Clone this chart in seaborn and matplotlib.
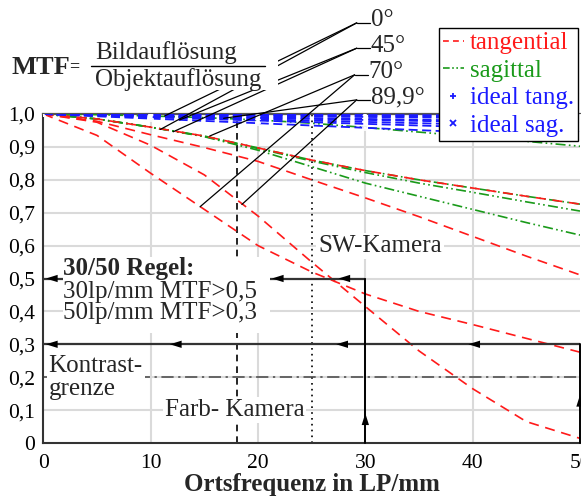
import matplotlib
matplotlib.use("Agg")
import matplotlib.pyplot as plt
import seaborn as sns
from matplotlib.lines import Line2D
from matplotlib.patches import Rectangle

# ---------------- data ----------------
freq = [0, 5, 10, 15, 20, 25, 30, 35, 40, 45, 50]
tan_0 = [1.0, 0.985, 0.96, 0.933, 0.897, 0.86, 0.828, 0.80, 0.775, 0.75, 0.726]
tan_45 = [1.0, 0.978, 0.937, 0.898, 0.856, 0.80, 0.745, 0.688, 0.628, 0.568, 0.511]
tan_70 = [1.0, 0.935, 0.82, 0.71, 0.60, 0.52, 0.453, 0.40, 0.36, 0.318, 0.276]
tan_90 = [1.0, 0.975, 0.905, 0.815, 0.69, 0.55, 0.415, 0.28, 0.165, 0.065, 0.014]
sag_0 = [1.0, 0.985, 0.96, 0.933, 0.897, 0.86, 0.828, 0.80, 0.775, 0.75, 0.726]
sag_45 = [1.0, 0.985, 0.96, 0.932, 0.895, 0.857, 0.822, 0.79, 0.762, 0.733, 0.705]
sag_70 = [1.0, 0.985, 0.96, 0.931, 0.89, 0.84, 0.79, 0.75, 0.71, 0.67, 0.632]
sag_90 = [1.0, 0.998, 0.994, 0.989, 0.982, 0.972, 0.959, 0.945, 0.931, 0.917, 0.902]

freq_ideal = [0, 10, 20, 30, 40, 50]
ideal_tan = [
    [1.0, 0.998, 0.996, 0.994, 0.992, 0.990],
    [1.0, 0.995, 0.990, 0.985, 0.980, 0.975],
    [1.0, 0.992, 0.984, 0.976, 0.968, 0.960],
    [1.0, 0.986, 0.972, 0.958, 0.944, 0.930],
]
ideal_sag = [
    [1.0, 0.999, 0.998, 0.997, 0.996, 0.995],
    [1.0, 0.997, 0.994, 0.991, 0.988, 0.985],
    [1.0, 0.994, 0.988, 0.982, 0.976, 0.970],
    [1.0, 0.990, 0.980, 0.970, 0.960, 0.950],
]

x_ticks = [0, 10, 20, 30, 40, 50]
x_ticklabels = ["0", "10", "20", "30", "40", "50"]
y_ticks = [0, 0.1, 0.2, 0.3, 0.4, 0.5, 0.6, 0.7, 0.8, 0.9, 1.0]
y_ticklabels = ["0", "0,1", "0,2", "0,3", "0,4", "0,5", "0,6", "0,7", "0,8", "0,9", "1,0"]

angle_labels = ["0°", "45°", "70°", "89,9°"]
legend_labels = ["tangential", "sagittal", "ideal tang.", "ideal sag."]

# ---------------- style ----------------
sns.set_theme(style="white")
plt.rcParams["font.family"] = ["Liberation Serif", "DejaVu Serif"]

W, H = 581, 497
fig = plt.figure(figsize=(W / 100, H / 100), dpi=100)
ax = fig.add_axes([43.3 / W, 54 / H, 536.7 / W, 329 / H])

RED = "#ff1a1a"
GREEN = "#1a9a1a"
BLUE = "#1a1aff"
DARK = "#333333"

# grid
for yv in y_ticks[1:-1]:
    ax.axhline(yv, color="#dadada", lw=1.5, zorder=0.5)
for xv in x_ticks[1:-1]:
    ax.axvline(xv, color="#dadada", lw=1.5, zorder=0.5)

# ideal curves
for vals in ideal_tan:
    sns.lineplot(x=freq_ideal, y=vals, ax=ax, color=BLUE, lw=1.3,
                 linestyle=(0, (5, 2.5)), marker="+", markersize=4.5,
                 markeredgewidth=1.2, markevery=0.0425, zorder=4)
for vals in ideal_sag:
    sns.lineplot(x=freq_ideal, y=vals, ax=ax, color=BLUE, lw=1.3,
                 linestyle=(0, (5, 2.5)), marker="x", markersize=3.5,
                 markeredgewidth=1.2, markevery=0.0425, zorder=4)

# sagittal
for vals in [sag_0, sag_45, sag_70, sag_90]:
    sns.lineplot(x=freq, y=vals, ax=ax, color=GREEN, lw=1.2,
                 linestyle=(0, (6, 2, 1, 2, 1, 2)), zorder=3)
# tangential
for vals in [tan_0, tan_45, tan_70, tan_90]:
    sns.lineplot(x=freq, y=vals, ax=ax, color=RED, lw=1.2,
                 linestyle=(0, (6, 4)), zorder=3.2)

# reference lines
ax.plot([18, 18], [0, 0.985], color="black", lw=1.2, ls=(0, (4, 3)), zorder=2)
ax.plot([25, 25], [0, 1.0], color="black", lw=1.2, ls=(0, (1, 2.5)), zorder=2)
ax.plot([0, 50], [0.2, 0.2], color="#444444", lw=1.1, ls=(0, (8, 3, 1.5, 3)), zorder=2)
ax.plot([0, 30], [0.5, 0.5], color=DARK, lw=1.6, zorder=5)
ax.plot([0, 50], [0.3, 0.3], color=DARK, lw=1.6, zorder=5)
ax.plot([30, 30], [0, 0.5], color="black", lw=1.4, zorder=5, clip_on=False)
ax.plot([50, 50], [0, 0.3], color="black", lw=1.4, zorder=5, clip_on=False)


def arrow(xh, yh, dx, dy):
    ax.annotate("", xy=(xh, yh), xytext=(xh + dx, yh + dy),
                arrowprops=dict(arrowstyle="-|>,head_length=0.7,head_width=0.22",
                                color="black", lw=0, shrinkA=0, shrinkB=0),
                zorder=6, annotation_clip=False)


for xh in [0.25, 21.3, 27.5]:
    arrow(xh, 0.5, 1.0, 0)
for xh in [0.25, 11.8, 27.3, 39.6]:
    arrow(xh, 0.3, 1.0, 0)
arrow(30, 0.09, 0, -0.03)
arrow(50, 0.146, 0, -0.03)

# annotation lines from angle labels
junctions = [(29.2, 1.277), (29.2, 1.200), (29.0, 1.119), (29.2, 1.043)]
ends = [
    [(10.9, 0.953), (11.3, 0.994)],
    [(12.1, 0.946), (12.7, 0.982)],
    [(15.5, 0.933), (14.6, 0.718)],
    [(16.8, 0.987), (18.5, 0.725)],
]
for (jx, jy), pair, lab in zip(junctions, ends, angle_labels):
    ax.plot([jx, jx + 1.25], [jy, jy], color="black", lw=0.9, clip_on=False, zorder=7)
    for ex, ey in pair:
        ax.plot([jx, ex], [jy, ey], color="black", lw=0.9, clip_on=False, zorder=7)
    ax.text(jx + 1.3, jy + 0.008, lab, fontsize=18, ha="left", va="center", zorder=9,
            clip_on=False)

# white box behind fraction text
ax.add_patch(Rectangle((4.0, 1.073), 17.9, 0.3, facecolor="white", edgecolor="none",
                       zorder=8, clip_on=False))


def P(x, y):
    return (x / W, 1 - y / H)


fig.text(*P(11, 74), "MTF", fontsize=19, fontweight="bold", ha="left",
         va="baseline", zorder=10)
fig.text(*P(69, 71), "=", fontsize=13, fontweight="bold", ha="left", va="baseline", zorder=10)
fig.text(*P(95, 59), "Bildauflösung", fontsize=18, ha="left", va="baseline", zorder=10)
fig.text(*P(95, 86), "Objektauflösung", fontsize=18, ha="left", va="baseline", zorder=10)
fig.add_artist(Line2D([91 / W, 265 / W], [1 - 66 / H, 1 - 66 / H], color="black",
                      lw=1.0, transform=fig.transFigure, zorder=10))

# 30/50 rule box
ax.add_patch(Rectangle((1.83, 0.334), 19.27, 0.231, facecolor="white",
                       edgecolor="none", zorder=5.5))
ax.text(1.83, 0.53, "30/50 Regel:", fontsize=18, fontweight="bold", ha="left",
        va="center", zorder=9)
ax.text(1.83, 0.459, "30lp/mm MTF>0,5", fontsize=18, ha="left", va="center", zorder=9)
ax.text(1.83, 0.394, "50lp/mm MTF>0,3", fontsize=18, ha="left", va="center", zorder=9)

box = dict(facecolor="white", edgecolor="none", pad=1.5)
ax.text(25.6, 0.598, "SW-Kamera", fontsize=18, ha="left", va="center", zorder=9,
        bbox=box)
ax.text(0.5, 0.198, "Kontrast-\ngrenze", fontsize=18, ha="left", va="center",
        zorder=9, linespacing=1.05, bbox=box)
ax.text(11.3, 0.1, "Farb- Kamera", fontsize=18, ha="left", va="center", zorder=9,
        bbox=box)

# axes
ax.set_xlim(0, 50)
ax.set_ylim(0, 1.0)
ax.set_xticks(x_ticks)
ax.set_xticklabels(x_ticklabels, fontsize=15.5)
ax.set_yticks(y_ticks)
ax.set_yticklabels(y_ticklabels, fontsize=15.5)
ax.xaxis.set_minor_locator(matplotlib.ticker.MultipleLocator(1))
ax.yaxis.set_minor_locator(matplotlib.ticker.MultipleLocator(0.01))
ax.tick_params(axis="both", which="major", direction="out", length=4, width=1.2,
               color=DARK, pad=3, labelcolor="black")
ax.tick_params(axis="x", which="minor", direction="out", length=3, width=1, color=DARK)
ax.tick_params(axis="y", which="minor", direction="in", length=3, width=0.8, color=DARK)
ax.tick_params(axis="y", which="major", pad=2)
ax.tick_params(axis="x", which="major", pad=4)
for s in ["left", "bottom"]:
    ax.spines[s].set_color(DARK)
    ax.spines[s].set_linewidth(1.5)
ax.spines["top"].set_color("#555555")
ax.spines["top"].set_linewidth(1.6)
ax.spines["right"].set_visible(False)
ax.set_xlabel("Ortsfrequenz in LP/mm", fontsize=18, fontweight="bold", labelpad=0)
ax.set_ylabel("")

# legend
handles = [
    Line2D([], [], color=RED, lw=1.2, ls=(0, (3.5, 2.5))),
    Line2D([], [], color=GREEN, lw=1.2, ls=(0, (4, 1.5, 1, 1.5, 1, 1.5))),
    Line2D([], [], color=BLUE, lw=0, marker="+", markersize=5, markeredgewidth=1.3),
    Line2D([], [], color=BLUE, lw=0, marker="x", markersize=4, markeredgewidth=1.3),
]
leg = fig.legend(handles, legend_labels, loc="upper right",
                 bbox_to_anchor=(578 / W, 1 - 28 / H), fontsize=18, frameon=True,
                 fancybox=False, edgecolor="black", framealpha=1, borderpad=0.15,
                 handlelength=0.85, handletextpad=0.25, labelspacing=0.2,
                 borderaxespad=0)
leg.get_frame().set_linewidth(1.0)
for t, c in zip(leg.get_texts(), [RED, GREEN, BLUE, BLUE]):
    t.set_color(c)

fig.savefig("out.png", dpi=100)
